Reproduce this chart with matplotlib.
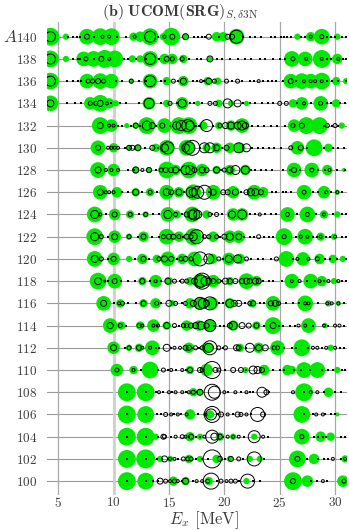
import numpy as np
import matplotlib.pyplot as plt

plt.rcParams["font.family"] = "cmr10"
plt.rcParams["mathtext.fontset"] = "cm"
plt.rcParams["axes.formatter.use_mathtext"] = True

masses = list(range(140, 98, -2))
x_ticks = [5, 10, 15, 20, 25, 30]

# (E_x [MeV], marker diameter) per mass number
green_circles = {
    140: [(4.3, 17), (5.7, 6), (7.6, 15), (8.8, 16), (9.8, 16), (11.8, 8), (12.4, 10), (13.3, 16), (14.5, 7),
          (15.2, 17), (16.5, 6), (19.3, 9), (19.9, 9), (21.1, 15), (26.6, 6), (27.8, 9), (28.8, 15), (30.2, 6)],
    138: [(4.3, 16), (5.7, 6), (7.3, 14), (8.2, 15), (9.2, 17), (10.1, 16), (11.7, 7), (12.4, 7), (13.3, 15),
          (14.6, 10), (15.3, 10), (16.3, 8), (18.7, 5), (26.1, 15), (27.3, 14), (28.8, 17), (30.2, 10)],
    136: [(4.3, 16), (7.6, 14), (8.8, 15), (9.8, 14), (11.6, 5), (13.3, 14), (14.8, 8), (16.3, 10), (18.5, 8),
          (19.4, 7), (26.0, 14), (27.0, 15), (27.8, 14), (28.8, 16), (30.1, 8), (31.0, 6)],
    134: [(4.3, 15), (7.9, 12), (8.8, 16), (9.6, 10), (10.2, 6), (13.2, 12), (14.8, 7), (16.2, 12), (17.6, 5),
          (19.5, 7), (20.6, 6), (22.0, 5), (26.2, 8), (27.0, 12), (28.7, 14), (30.1, 8)],
    132: [(8.8, 16), (9.8, 12), (11.2, 5), (12.0, 6), (13.0, 16), (14.6, 14), (15.9, 16), (16.8, 16), (18.1, 8),
          (19.5, 7), (20.6, 10), (21.6, 14), (26.3, 12), (27.4, 16), (28.6, 16), (30.6, 6)],
    130: [(8.6, 14), (10.0, 9), (11.4, 5), (12.2, 6), (13.8, 8), (14.8, 15), (16.6, 15), (18.4, 8), (19.3, 10),
          (20.5, 10), (21.4, 10), (26.6, 13), (28.1, 16), (29.4, 8)],
    128: [(8.6, 15), (10.0, 12), (12.0, 7), (13.2, 6), (14.8, 16), (15.6, 10), (16.8, 16), (18.0, 12), (19.3, 8),
          (20.5, 10), (21.9, 10), (26.3, 14), (27.9, 14), (29.3, 10), (30.8, 4)],
    126: [(8.8, 14), (10.3, 10), (12.0, 8), (13.3, 8), (14.8, 14), (15.9, 10), (17.2, 15), (19.0, 14), (20.8, 12),
          (22.7, 14), (23.5, 10), (27.2, 14), (29.0, 12), (30.2, 5)],
    124: [(8.3, 15), (10.1, 11), (11.5, 8), (12.9, 6), (14.9, 14), (15.7, 8), (17.1, 15), (18.4, 8), (20.8, 12),
          (21.6, 12), (25.7, 14), (27.5, 15), (29.0, 8), (30.2, 6)],
    122: [(8.3, 16), (10.1, 12), (11.4, 6), (12.7, 10), (14.8, 15), (15.9, 10), (17.2, 16), (19.0, 10), (20.5, 12),
          (21.3, 12), (25.4, 16), (27.3, 15), (28.7, 8), (29.9, 6)],
    120: [(8.3, 15), (10.0, 12), (11.4, 6), (12.6, 10), (13.9, 8), (14.9, 14), (16.2, 10), (17.3, 14), (18.9, 10),
          (20.4, 12), (21.4, 10), (25.6, 15), (27.1, 13), (28.6, 10), (29.8, 8), (30.7, 6)],
    118: [(8.6, 16), (10.1, 14), (12.6, 8), (13.8, 12), (15.0, 8), (16.9, 8), (17.8, 14), (19.0, 12), (20.5, 8),
          (22.0, 15), (22.9, 10), (26.1, 14), (27.8, 14), (28.8, 10), (29.9, 6)],
    116: [(9.1, 14), (10.6, 8), (12.7, 8), (13.8, 10), (15.3, 6), (16.9, 10), (17.8, 12), (18.9, 12), (20.5, 10),
          (22.5, 8), (24.4, 14), (27.3, 15), (29.4, 6), (30.3, 5)],
    114: [(9.7, 14), (10.7, 8), (12.4, 8), (13.6, 12), (14.8, 8), (16.6, 10), (17.7, 10), (18.7, 12), (20.8, 10),
          (22.9, 8), (24.4, 16), (27.6, 14), (29.1, 5)],
    112: [(10.0, 12), (11.4, 6), (12.3, 8), (13.5, 14), (16.8, 10), (18.4, 10), (18.7, 8), (21.4, 8), (23.1, 10),
          (24.8, 14), (27.0, 16), (29.6, 6)],
    110: [(10.3, 12), (11.8, 8), (13.3, 16), (16.9, 8), (18.4, 12), (21.9, 6), (23.6, 10), (25.7, 10), (26.1, 8),
          (27.2, 15), (28.4, 15), (30.2, 6)],
    108: [(11.2, 17), (12.9, 17), (17.2, 8), (17.8, 6), (27.2, 17), (29.4, 9)],
    106: [(11.2, 17), (12.9, 16), (16.9, 10), (18.7, 8), (27.0, 16), (30.2, 4)],
    104: [(11.2, 17), (12.9, 17), (13.8, 6), (16.9, 9), (17.8, 6), (19.6, 8), (20.8, 6), (22.7, 6), (27.0, 15),
          (28.7, 10), (29.6, 8)],
    102: [(11.2, 17), (12.9, 18), (14.2, 6), (15.1, 6), (16.8, 8), (17.8, 6), (19.3, 8), (20.5, 6), (22.3, 6),
          (23.2, 6), (26.6, 16), (28.1, 10), (30.9, 7)],
    100: [(11.2, 17), (12.9, 16), (15.4, 9), (16.5, 8), (18.6, 8), (22.0, 6), (26.2, 17), (27.5, 11), (30.7, 11)],
}

black_circles = {
    140: [(4.3, 10), (7.6, 5), (9.0, 3), (9.6, 3), (11.9, 3), (13.3, 11), (14.6, 3), (15.3, 5), (16.5, 6),
          (18.6, 5), (20.3, 5), (20.7, 5), (21.1, 13), (27.8, 3), (28.8, 4)],
    138: [(4.3, 10), (7.5, 4), (8.9, 5), (9.6, 3), (13.3, 11), (14.8, 5), (15.3, 4), (16.2, 4), (18.7, 6),
          (26.2, 4), (27.4, 3), (28.8, 3), (30.3, 3)],
    136: [(4.3, 10), (7.7, 4), (8.1, 4), (8.6, 5), (9.1, 4), (11.6, 4), (13.3, 11), (15.4, 4), (16.3, 6),
          (17.9, 3), (18.6, 6), (19.1, 4), (20.2, 4), (21.2, 4), (23.1, 3), (26.0, 5), (27.2, 3), (27.8, 3),
          (28.2, 3), (28.8, 3)],
    134: [(4.3, 7), (7.9, 4), (8.4, 4), (8.8, 6), (9.4, 3), (13.2, 10), (15.1, 4), (16.2, 8), (18.7, 4),
          (19.2, 4), (20.3, 9), (21.2, 7), (25.0, 4), (25.6, 4), (27.2, 3), (28.7, 4)],
    132: [(8.8, 6), (9.6, 3), (10.0, 3), (12.0, 5), (13.0, 9), (13.5, 6), (14.4, 5), (15.7, 8), (16.1, 10),
          (16.7, 12), (16.9, 9), (18.4, 12), (19.6, 4), (20.1, 6), (20.6, 7), (21.2, 7), (21.6, 9), (21.9, 6),
          (26.2, 4), (27.0, 5), (29.3, 4), (30.0, 4)],
    130: [(8.6, 5), (9.5, 3), (9.8, 3), (10.1, 3), (10.4, 3), (11.4, 5), (11.7, 5), (12.2, 6), (13.5, 5),
          (14.6, 8), (14.9, 12), (16.5, 8), (16.8, 12), (17.1, 15), (18.2, 10), (18.7, 10), (19.3, 6), (20.2, 5),
          (21.3, 10), (22.0, 8), (26.0, 4), (26.9, 5)],
    128: [(8.6, 6), (9.3, 3), (9.8, 3), (10.4, 3), (12.0, 6), (12.6, 3), (13.2, 5), (14.3, 4), (14.7, 5),
          (15.2, 5), (15.6, 6), (16.5, 9), (16.9, 9), (17.3, 5), (18.0, 6), (18.4, 5), (19.3, 6), (20.0, 4),
          (20.5, 6), (21.0, 9), (21.9, 8), (26.3, 5), (27.9, 4), (29.5, 3)],
    126: [(8.8, 6), (9.3, 3), (9.6, 3), (10.0, 3), (12.0, 6), (13.3, 4), (14.8, 7), (15.2, 5), (15.9, 6),
          (17.0, 10), (17.2, 8), (17.6, 12), (18.2, 14), (19.0, 6), (19.9, 5), (20.3, 5), (21.0, 6), (22.0, 5),
          (22.4, 7), (22.8, 7), (23.3, 5), (27.2, 4), (29.2, 3), (30.2, 3)],
    124: [(8.3, 8), (8.8, 3), (10.1, 5), (11.5, 4), (12.9, 4), (14.9, 8), (15.6, 4), (16.6, 5), (17.1, 9),
          (17.3, 11), (17.6, 8), (18.7, 4), (19.3, 4), (20.7, 7), (21.6, 9), (23.2, 3), (25.7, 4), (27.5, 4),
          (29.0, 3)],
    122: [(8.3, 8), (8.9, 4), (10.1, 6), (11.4, 4), (12.7, 5), (14.5, 4), (15.0, 5), (15.4, 5), (15.9, 4),
          (16.6, 5), (17.0, 4), (17.2, 8), (17.5, 14), (18.2, 4), (18.6, 4), (19.3, 4), (20.0, 5), (20.5, 7),
          (21.3, 6), (23.1, 4), (25.4, 4), (26.9, 3), (27.5, 3), (28.7, 3), (30.0, 3)],
    120: [(8.3, 7), (8.9, 4), (10.0, 5), (12.7, 5), (14.1, 4), (14.6, 6), (15.2, 5), (16.1, 4), (16.5, 5),
          (17.0, 4), (17.8, 14), (18.6, 10), (19.5, 4), (20.4, 7), (21.2, 8), (22.0, 4), (24.7, 4), (26.6, 3),
          (27.6, 3), (28.4, 4)],
    118: [(8.6, 7), (9.2, 2), (10.1, 5), (12.6, 5), (13.8, 3), (14.9, 6), (15.5, 4), (16.2, 4), (16.6, 4),
          (17.3, 6), (17.9, 12), (18.0, 16), (18.3, 9), (18.6, 6), (19.0, 5), (19.5, 4), (20.1, 6), (20.5, 5),
          (21.0, 5), (21.6, 5), (22.0, 6), (22.3, 5), (22.8, 6), (23.1, 5), (26.1, 3), (26.8, 3), (28.6, 3),
          (29.4, 3), (30.3, 3)],
    116: [(9.1, 6), (10.5, 3), (10.8, 4), (12.7, 5), (13.9, 4), (15.0, 6), (15.6, 4), (16.5, 4), (17.2, 6),
          (17.8, 12), (18.1, 10), (18.4, 6), (18.7, 13), (20.5, 8), (20.9, 6), (21.3, 6), (22.3, 4), (22.6, 5),
          (24.2, 5), (24.6, 6), (24.9, 4), (27.3, 3), (27.6, 3), (29.3, 3), (29.7, 3), (30.3, 3)],
    114: [(9.7, 6), (10.6, 4), (12.3, 4), (12.6, 3), (13.6, 3), (14.0, 3), (14.8, 6), (15.5, 4), (16.3, 4),
          (16.6, 4), (17.0, 5), (17.4, 6), (17.9, 8), (18.4, 5), (18.7, 12), (20.5, 5), (20.8, 8), (21.6, 6),
          (22.2, 5), (22.9, 5), (24.4, 6), (26.7, 3), (27.3, 3), (29.0, 3), (30.0, 3), (30.4, 3)],
    112: [(10.0, 6), (11.4, 4), (12.3, 5), (12.6, 3), (13.3, 3), (14.8, 7), (15.5, 3), (16.0, 3), (16.5, 5),
          (16.8, 5), (17.4, 4), (18.0, 4), (18.6, 9), (18.7, 14), (19.5, 4), (20.1, 4), (21.1, 6), (21.3, 5),
          (22.3, 9), (23.1, 6), (23.7, 6), (24.5, 4), (24.8, 4), (28.0, 3), (28.4, 3), (29.2, 3), (30.0, 3)],
    110: [(10.3, 4), (11.8, 3), (14.5, 4), (15.2, 3), (16.2, 3), (16.9, 5), (17.8, 5), (18.0, 4), (18.9, 17),
          (19.2, 5), (19.5, 4), (20.8, 5), (21.5, 5), (22.6, 8), (23.0, 7), (23.4, 5)],
    108: [(14.1, 3), (15.0, 3), (15.6, 3), (16.2, 3), (16.8, 3), (17.2, 4), (17.8, 6), (18.9, 16), (19.1, 12),
          (20.0, 3), (21.0, 3), (22.0, 3), (23.4, 10), (23.8, 5), (26.2, 3), (27.8, 3), (28.4, 3)],
    106: [(14.7, 4), (15.2, 3), (15.8, 3), (16.6, 3), (18.3, 3), (18.8, 11), (18.9, 16), (19.7, 5), (20.3, 3),
          (21.2, 5), (21.5, 4), (22.0, 3), (23.0, 14), (23.5, 5), (28.3, 3), (28.9, 3)],
    104: [(14.5, 5), (14.6, 4), (15.6, 3), (16.2, 4), (16.5, 3), (17.0, 5), (18.2, 3), (18.9, 13), (19.1, 7),
          (19.6, 5), (20.3, 3), (20.8, 3), (21.3, 3), (22.7, 12), (23.5, 3), (27.0, 4)],
    102: [(14.6, 6), (15.1, 3), (15.5, 3), (16.3, 4), (16.7, 4), (17.0, 4), (18.9, 18), (19.6, 5), (20.6, 5),
          (21.3, 4), (22.7, 14), (26.6, 5), (29.8, 3), (30.9, 3)],
    100: [(14.2, 6), (14.7, 4), (15.1, 3), (15.5, 4), (15.8, 3), (16.5, 6), (17.5, 3), (18.0, 3), (18.5, 4),
          (18.8, 16), (19.7, 4), (20.2, 3), (20.6, 4), (21.0, 4), (22.1, 14), (26.2, 5), (28.9, 3), (30.8, 4)],
}

black_dots = {
    140: [5.9, 6.3, 6.7, 7.0, 8.2, 10.3, 11.1, 14.0, 17.3, 17.6, 18.0, 18.3, 19.5, 21.7, 22.3, 22.8, 23.3, 24.2,
          24.6, 25.1, 25.4, 25.7, 26.0, 26.9, 27.3, 29.3, 29.6, 30.0, 30.6, 31.0],
    138: [6.3, 6.8, 7.0, 8.2, 10.9, 11.3, 12.0, 12.9, 14.1, 16.8, 17.5, 17.9, 19.3, 19.8, 20.5, 21.2, 21.9, 22.4,
          23.2, 23.7, 24.4, 25.0, 25.5, 29.3, 29.6, 30.7, 31.0],
    136: [5.8, 6.3, 6.8, 7.1, 10.2, 10.8, 12.3, 12.9, 14.3, 14.6, 15.8, 17.2, 17.5, 18.2, 20.7, 21.6, 22.3, 22.7,
          23.5, 23.9, 24.3, 24.7, 25.3, 26.5, 29.3, 29.7, 30.3, 31.0],
    134: [5.8, 6.5, 7.1, 9.8, 10.6, 11.1, 12.3, 14.3, 15.7, 16.9, 17.3, 18.0, 21.7, 22.3, 22.8, 23.4, 23.9, 24.4,
          26.6, 27.8, 29.3, 29.6, 30.4, 30.9],
    132: [10.4, 10.8, 11.6, 12.4, 13.8, 15.1, 17.4, 17.7, 19.0, 20.3, 22.5, 23.0, 23.6, 24.2, 24.8, 25.5, 29.0,
          29.7, 30.3],
    130: [11.0, 12.8, 14.0, 17.8, 19.8, 22.5, 23.0, 23.5, 24.0, 24.5, 25.1, 27.5, 29.0, 29.8, 30.3, 30.8],
    128: [11.3, 11.8, 13.8, 16.0, 19.7, 22.4, 22.8, 23.3, 23.8, 24.3, 25.3, 25.9, 26.8, 28.5, 29.1, 30.2, 30.9],
    126: [10.8, 11.3, 12.6, 13.9, 16.4, 18.6, 21.5, 24.3, 24.7, 25.3, 25.6, 26.0, 28.0, 28.5, 29.6, 30.6],
    124: [9.3, 12.3, 13.6, 14.1, 16.2, 18.9, 19.8, 22.3, 22.8, 23.7, 24.2, 24.7, 26.6, 28.3, 29.8, 30.6, 31.0],
    122: [9.5, 12.2, 13.5, 14.1, 16.3, 19.6, 21.8, 22.3, 22.7, 23.6, 24.0, 24.4, 26.5, 28.0, 28.4, 29.2, 29.5,
          30.6, 31.0],
    120: [9.5, 11.9, 13.2, 15.7, 19.9, 22.4, 23.0, 23.5, 24.2, 26.2, 29.1, 29.5, 30.2, 31.0],
    118: [9.5, 10.7, 11.3, 11.9, 13.3, 14.3, 16.0, 19.7, 23.5, 24.0, 24.4, 25.2, 27.5, 28.2, 29.0, 30.6, 31.0],
    116: [10.0, 11.3, 12.0, 14.3, 16.2, 19.5, 19.9, 21.9, 23.2, 23.6, 25.6, 26.2, 26.7, 28.5, 30.8],
    114: [11.1, 13.9, 15.9, 19.1, 19.6, 20.0, 23.6, 24.9, 25.3, 25.9, 26.4, 28.0, 29.4, 30.8],
    112: [11.0, 13.8, 14.1, 15.2, 17.1, 17.7, 19.9, 22.0, 25.4, 26.1, 26.5, 27.6, 28.8, 30.4, 30.8],
    110: [12.5, 14.0, 14.9, 15.6, 16.5, 20.1, 22.0, 24.4, 25.0, 25.4, 26.3, 26.9, 27.7, 28.8, 29.4, 29.8, 30.6,
          30.9],
    108: [11.2, 12.9, 13.8, 14.5, 15.3, 16.5, 17.5, 20.3, 21.5, 22.3, 22.6, 24.0, 27.2, 29.0, 30.0, 30.5],
    106: [11.2, 12.9, 13.9, 14.3, 15.5, 16.1, 17.6, 19.4, 20.8, 22.4, 27.2, 28.0, 29.1, 29.6, 30.0],
    104: [11.2, 12.9, 14.0, 15.2, 16.8, 17.4, 17.8, 19.9, 21.8, 23.9, 28.1, 28.5, 28.9, 29.2, 30.5, 30.9],
    102: [11.2, 12.9, 13.9, 14.4, 15.8, 17.4, 18.0, 18.5, 20.1, 21.7, 23.6, 27.5, 28.5, 29.0, 29.4, 30.5],
    100: [11.2, 12.9, 13.6, 14.0, 16.2, 17.2, 19.3, 21.3, 22.6, 23.2, 27.8, 28.4, 29.3],
}

GREEN = "#00ea00"
TEXT = "#3a3a3a"
PX = 0.72  # points per pixel at dpi 100


def main():
    fig = plt.figure(figsize=(3.49, 5.30), dpi=100)
    # axes spans x 47..347 px, y 22..495 px
    ax = fig.add_axes([0.135, 0.066, 0.860, 0.892])

    for A in masses:
        ax.axhline(A, color="#9a9a9a", lw=0.8, zorder=0)
    for x in x_ticks:
        if x == 10:
            ax.axvline(x, color="#cfcfcf", lw=2.0, zorder=0)
        else:
            ax.axvline(x, color="#a8a8a8", lw=0.9, zorder=0)

    for A in masses:
        e, d = zip(*green_circles[A])
        ax.scatter(e, [A] * len(e), s=(np.array(d) * PX * 1.05) ** 2, color=GREEN,
                   linewidths=0, zorder=2)
        e, d = zip(*black_circles[A])
        ax.scatter(e, [A] * len(e), s=(np.array(d) * PX) ** 2, facecolors="none",
                   edgecolors="black", linewidths=0.7, zorder=3)
        ax.scatter(black_dots[A], [A] * len(black_dots[A]), s=2.2, marker="s",
                   color="black", linewidths=0, zorder=4)

    ax.set_xlim(4.0, 31.1)
    ax.set_ylim(98.75, 141.3)
    ax.set_xticks(x_ticks)
    ax.set_yticks(masses)
    ax.tick_params(length=0, labelsize=9.5, labelcolor=TEXT)
    ax.tick_params(axis="x", pad=0.5)
    ax.tick_params(axis="y", pad=7)
    for s in ax.spines.values():
        s.set_visible(False)

    fig.text(0.585, 0.019, r"$E_x$ [MeV]", fontsize=12, color=TEXT, ha="center", va="center")
    fig.text(0.008, 0.931, r"$A$", fontsize=12.5, color=TEXT, va="center")
    fig.text(0.516, 0.976, r"$\mathbf{(b)\ UCOM(SRG)}_{S,\delta3\mathrm{N}}$",
             fontsize=11.5, color=TEXT, ha="center", va="center")

    fig.savefig("out.png", dpi=100)
    plt.close(fig)


if __name__ == "__main__":
    main()
